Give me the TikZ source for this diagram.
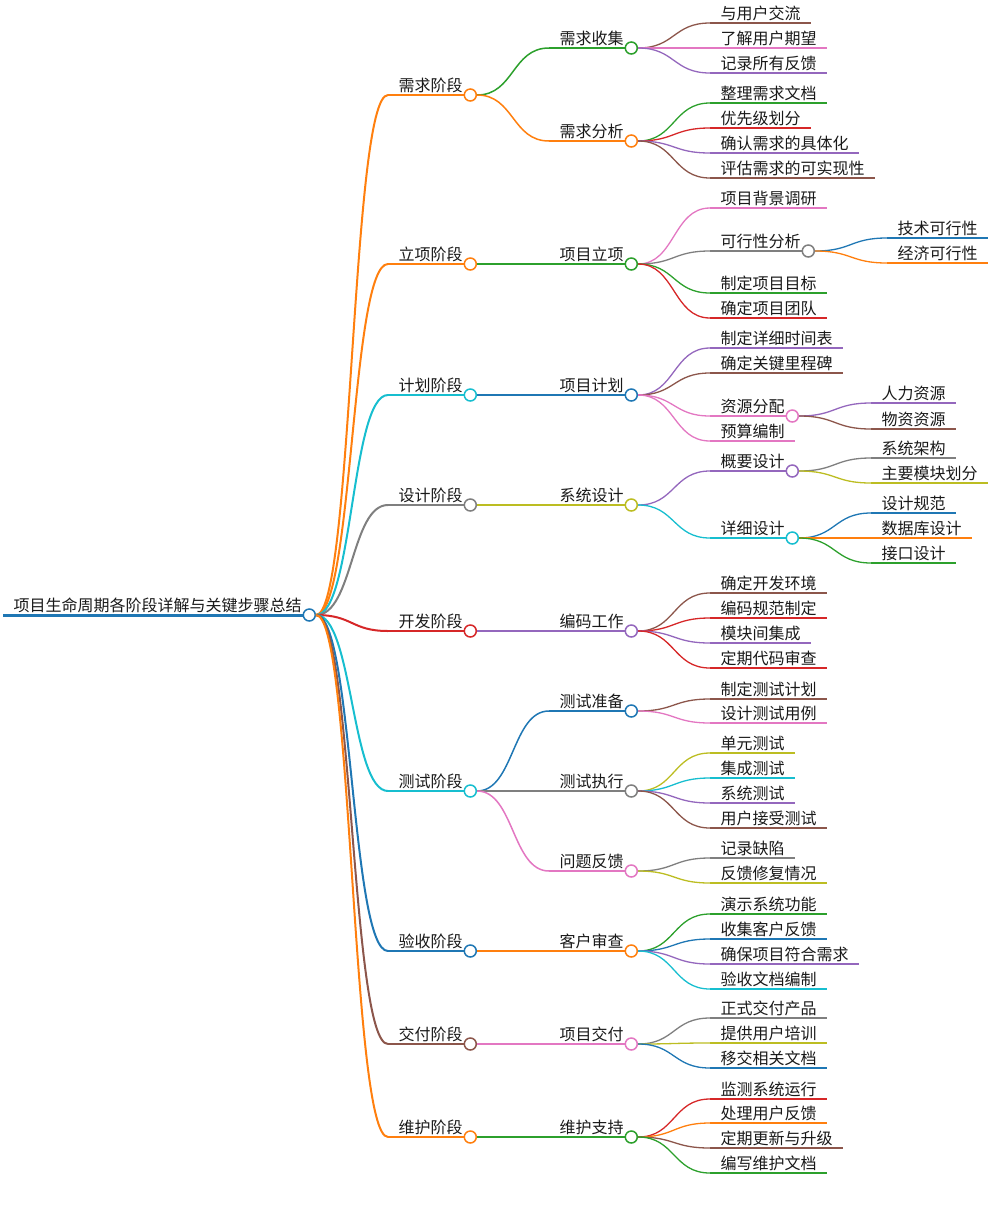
\documentclass[tikz,border=0pt]{standalone}
\usepackage{fontspec}
\setmainfont{Noto Sans CJK SC}
\usepackage{tikz}
\definecolor{mmblue}{HTML}{1F77B4}
\definecolor{mmorange}{HTML}{FF7F0E}
\definecolor{mmgreen}{HTML}{2CA02C}
\definecolor{mmred}{HTML}{D62728}
\definecolor{mmpurple}{HTML}{9467BD}
\definecolor{mmbrown}{HTML}{8C564B}
\definecolor{mmpink}{HTML}{E377C2}
\definecolor{mmgray}{HTML}{7F7F7F}
\definecolor{mmolive}{HTML}{BCBD22}
\definecolor{mmcyan}{HTML}{17BECF}

\begin{document}
\begin{tikzpicture}[
    x=1pt, y=-1pt,
    line width=1.3pt,
    font=\fontsize{16}{19}\selectfont,
    topic/.style={anchor=south west, inner xsep=10pt, inner ysep=0pt,
        text height=13pt, text depth=2.5pt, text=black!90},
    leaf/.style={topic, append after command={
        (\tikzlastnode.south west) edge[draw=#1] (\tikzlastnode.south east)}},
    branch/.style 2 args={topic, append after command={
        (\tikzlastnode.south west) edge[draw=#1, line width=#2] ([xshift=-9pt]\tikzlastnode.south east)}},
    dot/.style={circle, draw=#1, fill=white, line width=1.5pt,
        minimum size=12pt, inner sep=0pt},
    link/.style={out=0, in=180, distance=37pt}
]
    \useasboundingbox (0,0) rectangle (992,1210);

    % Root
    \node[branch={mmblue}{3pt}] (root) at (3,615) {项目生命周期各阶段详解与关键步骤总结};
    \node[dot=mmblue] (root-c) at ([xshift=-3pt]root.south east) {};

    % Phases
    \node[branch={mmorange}{2pt}] (ph1) at (388,95) {需求阶段};
    \node[dot=mmorange] (ph1-c) at ([xshift=-3pt]ph1.south east) {};
    \node[branch={mmorange}{2pt}] (ph2) at (388,264) {立项阶段};
    \node[dot=mmorange] (ph2-c) at ([xshift=-3pt]ph2.south east) {};
    \node[branch={mmcyan}{2pt}] (ph3) at (388,395) {计划阶段};
    \node[dot=mmcyan] (ph3-c) at ([xshift=-3pt]ph3.south east) {};
    \node[branch={mmgray}{2pt}] (ph4) at (388,505) {设计阶段};
    \node[dot=mmgray] (ph4-c) at ([xshift=-3pt]ph4.south east) {};
    \node[branch={mmred}{2pt}] (ph5) at (388,631) {开发阶段};
    \node[dot=mmred] (ph5-c) at ([xshift=-3pt]ph5.south east) {};
    \node[branch={mmcyan}{2pt}] (ph6) at (388,791) {测试阶段};
    \node[dot=mmcyan] (ph6-c) at ([xshift=-3pt]ph6.south east) {};
    \node[branch={mmblue}{2pt}] (ph7) at (388,951) {验收阶段};
    \node[dot=mmblue] (ph7-c) at ([xshift=-3pt]ph7.south east) {};
    \node[branch={mmbrown}{2pt}] (ph8) at (388,1044) {交付阶段};
    \node[dot=mmbrown] (ph8-c) at ([xshift=-3pt]ph8.south east) {};
    \node[branch={mmorange}{2pt}] (ph9) at (388,1137) {维护阶段};
    \node[dot=mmorange] (ph9-c) at ([xshift=-3pt]ph9.south east) {};

    % Tasks of each phase
    \node[branch={mmgreen}{1.5pt}] (tk11) at (549,48) {需求收集};
    \node[dot=mmgreen] (tk11-c) at ([xshift=-3pt]tk11.south east) {};
    \node[branch={mmorange}{1.5pt}] (tk12) at (549,141) {需求分析};
    \node[dot=mmorange] (tk12-c) at ([xshift=-3pt]tk12.south east) {};
    \node[branch={mmgreen}{1.5pt}] (tk21) at (549,264) {项目立项};
    \node[dot=mmgreen] (tk21-c) at ([xshift=-3pt]tk21.south east) {};
    \node[branch={mmblue}{1.5pt}] (tk31) at (549,395) {项目计划};
    \node[dot=mmblue] (tk31-c) at ([xshift=-3pt]tk31.south east) {};
    \node[branch={mmolive}{1.5pt}] (tk41) at (549,505) {系统设计};
    \node[dot=mmolive] (tk41-c) at ([xshift=-3pt]tk41.south east) {};
    \node[branch={mmpurple}{1.5pt}] (tk51) at (549,631) {编码工作};
    \node[dot=mmpurple] (tk51-c) at ([xshift=-3pt]tk51.south east) {};
    \node[branch={mmblue}{1.5pt}] (tk61) at (549,711) {测试准备};
    \node[dot=mmblue] (tk61-c) at ([xshift=-3pt]tk61.south east) {};
    \node[branch={mmgray}{1.5pt}] (tk62) at (549,791) {测试执行};
    \node[dot=mmgray] (tk62-c) at ([xshift=-3pt]tk62.south east) {};
    \node[branch={mmpink}{1.5pt}] (tk63) at (549,871) {问题反馈};
    \node[dot=mmpink] (tk63-c) at ([xshift=-3pt]tk63.south east) {};
    \node[branch={mmorange}{1.5pt}] (tk71) at (549,951) {客户审查};
    \node[dot=mmorange] (tk71-c) at ([xshift=-3pt]tk71.south east) {};
    \node[branch={mmpink}{1.5pt}] (tk81) at (549,1044) {项目交付};
    \node[dot=mmpink] (tk81-c) at ([xshift=-3pt]tk81.south east) {};
    \node[branch={mmgreen}{1.5pt}] (tk91) at (549,1137) {维护支持};
    \node[dot=mmgreen] (tk91-c) at ([xshift=-3pt]tk91.south east) {};

    % Steps
    \node[leaf=mmbrown] (st111) at (710,23) {与用户交流};
    \node[leaf=mmpink] (st112) at (710,48) {了解用户期望};
    \node[leaf=mmpurple] (st113) at (710,73) {记录所有反馈};
    \node[leaf=mmgreen] (st121) at (710,103) {整理需求文档};
    \node[leaf=mmred] (st122) at (710,128) {优先级划分};
    \node[leaf=mmpurple] (st123) at (710,153) {确认需求的具体化};
    \node[leaf=mmbrown] (st124) at (710,178) {评估需求的可实现性};
    \node[leaf=mmpink] (st211) at (710,208) {项目背景调研};
    \node[branch={mmgray}{1.3pt}] (st212) at (710,251) {可行性分析};
    \node[dot=mmgray] (st212-c) at ([xshift=-3pt]st212.south east) {};
    \node[leaf=mmgreen] (st213) at (710,293) {制定项目目标};
    \node[leaf=mmred] (st214) at (710,318) {确定项目团队};
    \node[leaf=mmpurple] (st311) at (710,348) {制定详细时间表};
    \node[leaf=mmbrown] (st312) at (710,373) {确定关键里程碑};
    \node[branch={mmpink}{1.3pt}] (st313) at (710,416) {资源分配};
    \node[dot=mmpink] (st313-c) at ([xshift=-3pt]st313.south east) {};
    \node[leaf=mmpink] (st314) at (710,441) {预算编制};
    \node[branch={mmpurple}{1.3pt}] (st411) at (710,471) {概要设计};
    \node[dot=mmpurple] (st411-c) at ([xshift=-3pt]st411.south east) {};
    \node[branch={mmcyan}{1.3pt}] (st412) at (710,538) {详细设计};
    \node[dot=mmcyan] (st412-c) at ([xshift=-3pt]st412.south east) {};
    \node[leaf=mmbrown] (st511) at (710,593) {确定开发环境};
    \node[leaf=mmred] (st512) at (710,618) {编码规范制定};
    \node[leaf=mmpurple] (st513) at (710,643) {模块间集成};
    \node[leaf=mmred] (st514) at (710,668) {定期代码审查};
    \node[leaf=mmbrown] (st611) at (710,699) {制定测试计划};
    \node[leaf=mmpink] (st612) at (710,723) {设计测试用例};
    \node[leaf=mmolive] (st621) at (710,753) {单元测试};
    \node[leaf=mmcyan] (st622) at (710,778) {集成测试};
    \node[leaf=mmpurple] (st623) at (710,803) {系统测试};
    \node[leaf=mmbrown] (st624) at (710,828) {用户接受测试};
    \node[leaf=mmgray] (st631) at (710,858) {记录缺陷};
    \node[leaf=mmolive] (st632) at (710,883) {反馈修复情况};
    \node[leaf=mmgreen] (st711) at (710,914) {演示系统功能};
    \node[leaf=mmblue] (st712) at (710,939) {收集客户反馈};
    \node[leaf=mmpurple] (st713) at (710,964) {确保项目符合需求};
    \node[leaf=mmcyan] (st714) at (710,989) {验收文档编制};
    \node[leaf=mmgray] (st811) at (710,1018) {正式交付产品};
    \node[leaf=mmolive] (st812) at (710,1043) {提供用户培训};
    \node[leaf=mmblue] (st813) at (710,1068) {移交相关文档};
    \node[leaf=mmred] (st911) at (710,1099) {监测系统运行};
    \node[leaf=mmorange] (st912) at (710,1123) {处理用户反馈};
    \node[leaf=mmbrown] (st913) at (710,1148) {定期更新与升级};
    \node[leaf=mmgreen] (st914) at (710,1173) {编写维护文档};

    % Details
    \node[leaf=mmblue] (dt1) at (887,238) {技术可行性};
    \node[leaf=mmorange] (dt2) at (887,263) {经济可行性};
    \node[leaf=mmpurple] (dt3) at (871,403) {人力资源};
    \node[leaf=mmbrown] (dt4) at (871,429) {物资资源};
    \node[leaf=mmgray] (dt5) at (871,458) {系统架构};
    \node[leaf=mmolive] (dt6) at (871,483) {主要模块划分};
    \node[leaf=mmblue] (dt7) at (871,513) {设计规范};
    \node[leaf=mmorange] (dt8) at (871,538) {数据库设计};
    \node[leaf=mmgreen] (dt9) at (871,563) {接口设计};

    % Root to phases
    \path[line width=2pt]
        (root-c.east) edge[link, mmorange] (ph1.south west)
        (root-c.east) edge[link, mmorange] (ph2.south west)
        (root-c.east) edge[link, mmcyan] (ph3.south west)
        (root-c.east) edge[link, mmgray] (ph4.south west)
        (root-c.east) edge[link, mmred] (ph5.south west)
        (root-c.east) edge[link, mmcyan] (ph6.south west)
        (root-c.east) edge[link, mmblue] (ph7.south west)
        (root-c.east) edge[link, mmbrown] (ph8.south west)
        (root-c.east) edge[link, mmorange] (ph9.south west);

    % Phases to tasks
    \path[line width=1.5pt]
        (ph1-c.east) edge[link, mmgreen] (tk11.south west)
        (ph1-c.east) edge[link, mmorange] (tk12.south west)
        (ph2-c.east) edge[link, mmgreen] (tk21.south west)
        (ph3-c.east) edge[link, mmblue] (tk31.south west)
        (ph4-c.east) edge[link, mmolive] (tk41.south west)
        (ph5-c.east) edge[link, mmpurple] (tk51.south west)
        (ph6-c.east) edge[link, mmblue] (tk61.south west)
        (ph6-c.east) edge[link, mmgray] (tk62.south west)
        (ph6-c.east) edge[link, mmpink] (tk63.south west)
        (ph7-c.east) edge[link, mmorange] (tk71.south west)
        (ph8-c.east) edge[link, mmpink] (tk81.south west)
        (ph9-c.east) edge[link, mmgreen] (tk91.south west);

    % Tasks to steps
    \path
        (tk11-c.east) edge[link, mmbrown] (st111.south west)
        (tk11-c.east) edge[link, mmpink] (st112.south west)
        (tk11-c.east) edge[link, mmpurple] (st113.south west)
        (tk12-c.east) edge[link, mmgreen] (st121.south west)
        (tk12-c.east) edge[link, mmred] (st122.south west)
        (tk12-c.east) edge[link, mmpurple] (st123.south west)
        (tk12-c.east) edge[link, mmbrown] (st124.south west)
        (tk21-c.east) edge[link, mmpink] (st211.south west)
        (tk21-c.east) edge[link, mmgray] (st212.south west)
        (tk21-c.east) edge[link, mmgreen] (st213.south west)
        (tk21-c.east) edge[link, mmred] (st214.south west)
        (tk31-c.east) edge[link, mmpurple] (st311.south west)
        (tk31-c.east) edge[link, mmbrown] (st312.south west)
        (tk31-c.east) edge[link, mmpink] (st313.south west)
        (tk31-c.east) edge[link, mmpink] (st314.south west)
        (tk41-c.east) edge[link, mmpurple] (st411.south west)
        (tk41-c.east) edge[link, mmcyan] (st412.south west)
        (tk51-c.east) edge[link, mmbrown] (st511.south west)
        (tk51-c.east) edge[link, mmred] (st512.south west)
        (tk51-c.east) edge[link, mmpurple] (st513.south west)
        (tk51-c.east) edge[link, mmred] (st514.south west)
        (tk61-c.east) edge[link, mmbrown] (st611.south west)
        (tk61-c.east) edge[link, mmpink] (st612.south west)
        (tk62-c.east) edge[link, mmolive] (st621.south west)
        (tk62-c.east) edge[link, mmcyan] (st622.south west)
        (tk62-c.east) edge[link, mmpurple] (st623.south west)
        (tk62-c.east) edge[link, mmbrown] (st624.south west)
        (tk63-c.east) edge[link, mmgray] (st631.south west)
        (tk63-c.east) edge[link, mmolive] (st632.south west)
        (tk71-c.east) edge[link, mmgreen] (st711.south west)
        (tk71-c.east) edge[link, mmblue] (st712.south west)
        (tk71-c.east) edge[link, mmpurple] (st713.south west)
        (tk71-c.east) edge[link, mmcyan] (st714.south west)
        (tk81-c.east) edge[link, mmgray] (st811.south west)
        (tk81-c.east) edge[link, mmolive] (st812.south west)
        (tk81-c.east) edge[link, mmblue] (st813.south west)
        (tk91-c.east) edge[link, mmred] (st911.south west)
        (tk91-c.east) edge[link, mmorange] (st912.south west)
        (tk91-c.east) edge[link, mmbrown] (st913.south west)
        (tk91-c.east) edge[link, mmgreen] (st914.south west);

    % Steps to details
    \path
        (st212-c.east) edge[link, mmblue] (dt1.south west)
        (st212-c.east) edge[link, mmorange] (dt2.south west)
        (st313-c.east) edge[link, mmpurple] (dt3.south west)
        (st313-c.east) edge[link, mmbrown] (dt4.south west)
        (st411-c.east) edge[link, mmgray] (dt5.south west)
        (st411-c.east) edge[link, mmolive] (dt6.south west)
        (st412-c.east) edge[link, mmblue] (dt7.south west)
        (st412-c.east) edge[link, mmorange] (dt8.south west)
        (st412-c.east) edge[link, mmgreen] (dt9.south west);
\end{tikzpicture}
\end{document}
